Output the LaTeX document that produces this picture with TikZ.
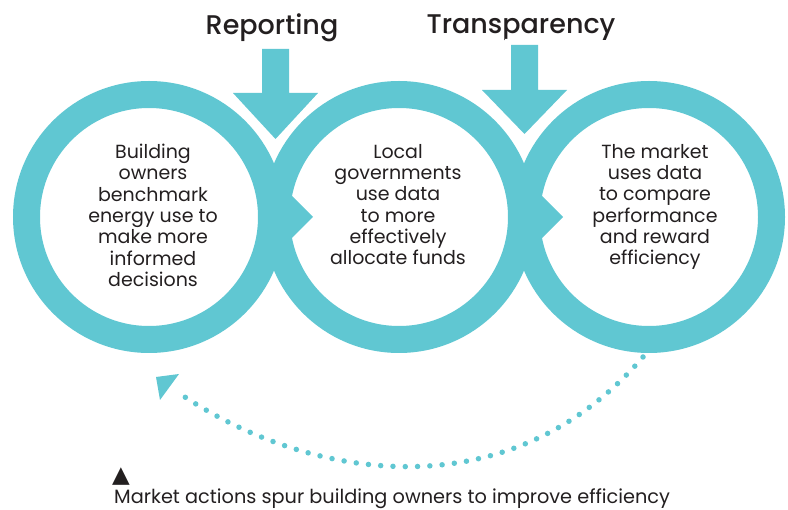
\documentclass[tikz,border=0pt]{standalone}
\usepackage{fontspec}
\setmainfont{Poppins}
\newfontfamily\headfont{Poppins Medium}
\newfontfamily\symfont{DejaVu Sans}
\usetikzlibrary{positioning}
\definecolor{ringteal}{RGB}{96,199,210}
\definecolor{inkgray}{RGB}{35,31,32}

\begin{document}
\begin{tikzpicture}[x=1pt,y=1pt,yscale=-1,
  ring/.style={draw=ringteal,line width=27pt},
  notch/.style={fill=ringteal},
  flowarrow/.style={fill=ringteal,preaction={draw=white,line width=12pt}},
  loopline/.style={draw=ringteal,line width=5.5pt,line cap=round,dash pattern=on 0pt off 12.3pt},
  bodytext/.style={font=\fontsize{19}{21.3}\selectfont,text=inkgray,align=center,inner sep=0pt,anchor=north},
  headtext/.style={font=\headfont\fontsize{27}{30}\selectfont,text=inkgray,inner sep=0pt,anchor=base}]
\useasboundingbox (0,0) rectangle (788,510);

%Ring centres
\coordinate (owners) at (149,217);
\coordinate (govs) at (399,217);
\coordinate (market) at (649,217);

%Rings
\draw[ring] (owners) circle (122.5);
\draw[ring] (govs) circle (122.5);
\draw[ring] (market) circle (122.5);

%Notches pointing into the next ring
\fill[notch] (280,184) -- (313,217) -- (280,250) -- cycle;
\fill[notch] (530,184) -- (563,217) -- (530,250) -- cycle;

%Headings
\node[headtext] (reporting) at (272,35) {Reporting};
\node[headtext] (transparency) at (521,34) {Transparency};

%Down arrows
\path[flowarrow] (262,49) -- (289,49) -- (289,93) -- (318,93) -- (275.5,139) -- (233,93) -- (262,93) -- cycle;
\path[flowarrow] (511,45) -- (538,45) -- (538,90) -- (567,90) -- (524.5,134) -- (482,90) -- (511,90) -- cycle;

%Ring texts
\node[bodytext] (ownerstext) at (153,144) {Building\\owners\\benchmark\\energy use to\\make more\\informed\\decisions};
\node[bodytext] (govstext) at (398,144) {Local\\governments\\use data\\to more\\effectively\\allocate funds};
\node[bodytext] (markettext) at (655,144) {The market\\uses data\\to compare\\performance\\and reward\\efficiency};

%Feedback loop
\coordinate (loopstart) at (643,357);
\coordinate (loopend) at (176,391);
\draw[loopline] (loopstart) .. controls (506,516) and (303,479) .. (loopend);
\fill[ringteal] (156,377) -- (179,374) -- (160,400) -- cycle;

%Caption
\node[anchor=base west,inner sep=0pt,text=inkgray,font=\fontsize{19.3}{20}\selectfont] (caption) at (114,503.5) {Market actions spur building owners to improve efficiency};
\node[anchor=south west,inner sep=0pt,text=inkgray,font=\symfont\fontsize{23}{23}\selectfont] (caretmark) at (112,486) {▲};
\end{tikzpicture}
\end{document}
